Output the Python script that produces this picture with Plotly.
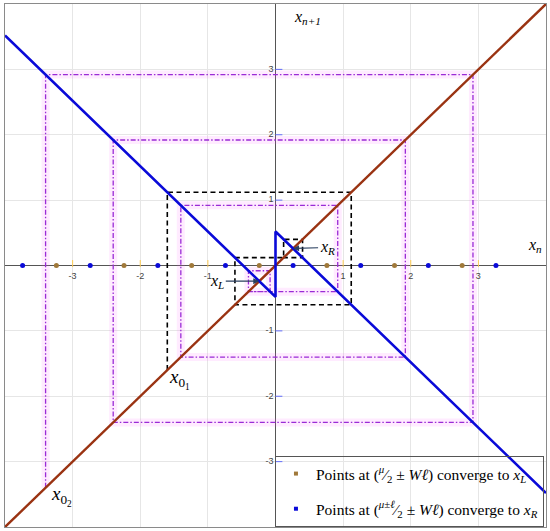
import plotly.graph_objects as go

# ---- data ----
x_left = [-4.0, 0.0]
y_left = [3.52, -0.48]
x_right = [0.0, 4.0]
y_right = [0.52, -3.48]

diag = [-4.0, 4.0]

# cobweb orbits (successive iterates)
orbit_1 = [-1.60, 1.12, -0.60, 0.12, 0.40, 0.12]
orbit_2 = [-3.40, 2.92, -2.40, 1.92, -1.40, 0.92, -0.40, -0.08, -0.40]

pts_L = [-3.24, -2.24, -1.24, -0.24, 0.76, 1.76, 2.76]
pts_R = [-3.74, -2.74, -1.74, -0.74, 0.26, 1.26, 2.26, 3.26]

ticks = [-3, -2, -1, 1, 2, 3]
x_L = -0.24
x_R = 0.26

BROWN_LINE = '#9a3312'
BROWN_DOT = '#a0793a'
BLUE = '#0a0ad8'
VIOLET = '#9a2bd6'
SERIF = 'Liberation Serif, DejaVu Serif, serif'


def staircase(orbit):
    xs, ys = [orbit[0]], [orbit[0]]
    for a, b in zip(orbit[:-1], orbit[1:]):
        xs += [a, b]
        ys += [b, b]
    return xs, ys


fig = go.Figure()

# orbit 2 (violet dash-dot with pink halo)
ox2, oy2 = staircase(orbit_2)
fig.add_trace(go.Scatter(x=ox2, y=oy2, mode='lines',
                         line=dict(color='rgba(255,90,255,0.12)', width=8),
                         showlegend=False, hoverinfo='skip'))
fig.add_trace(go.Scatter(x=ox2, y=oy2, mode='lines',
                         line=dict(color=VIOLET, width=1.3, dash='5px,2px,1.5px,2px'),
                         showlegend=False))

# orbit 1 (black dashed)
ox1, oy1 = staircase(orbit_1)
fig.add_trace(go.Scatter(x=ox1, y=oy1, mode='lines',
                         line=dict(color='black', width=1.6, dash='5px,3.5px'),
                         showlegend=False))

# diagonal x_{n+1} = x_n
fig.add_trace(go.Scatter(x=diag, y=diag, mode='lines',
                         line=dict(color=BROWN_LINE, width=2.4),
                         showlegend=False))

# map
fig.add_trace(go.Scatter(x=x_left + x_right, y=y_left + y_right, mode='lines',
                         line=dict(color=BLUE, width=2.6),
                         showlegend=False))

# points on the x axis
fig.add_trace(go.Scatter(x=pts_L, y=[0] * len(pts_L), mode='markers',
                         marker=dict(color=BROWN_DOT, size=5),
                         showlegend=False))
fig.add_trace(go.Scatter(x=pts_R, y=[0] * len(pts_R), mode='markers',
                         marker=dict(color=BLUE, size=5),
                         showlegend=False))

# legend entries
fig.add_trace(go.Scatter(x=[None], y=[None], mode='markers', legendgroup='L',
                         marker=dict(color=BROWN_DOT, size=4, symbol='square'),
                         name='Points at (<sup><i>μ</i></sup>⁄<sub>2</sub> ± <i>Wℓ</i>) converge to <i>x<sub>L</sub></i>'))
fig.add_trace(go.Scatter(x=[None], y=[None], mode='markers', legendgroup='R',
                         marker=dict(color=BLUE, size=4, symbol='square'),
                         name='Points at (<sup><i>μ</i>±<i>ℓ</i></sup>⁄<sub>2</sub> ± <i>Wℓ</i>) converge to <i>x<sub>R</sub></i>'))

# tick marks and tick labels on the crossing axes
fig.add_trace(go.Scatter(x=ticks, y=[0.03] * len(ticks), mode='markers',
                         marker=dict(symbol='line-ns-open', size=5, line=dict(color='#555', width=1)),
                         showlegend=False, hoverinfo='skip'))
fig.add_trace(go.Scatter(x=[0.05] * len(ticks), y=ticks, mode='markers',
                         marker=dict(symbol='line-ew-open', size=5, line=dict(color='#555', width=1)),
                         showlegend=False, hoverinfo='skip'))
fig.add_trace(go.Scatter(x=ticks, y=[-0.17] * len(ticks), mode='text',
                         text=[str(t) for t in ticks],
                         textfont=dict(size=9, color='#444', family='Liberation Sans, Arial'),
                         showlegend=False, hoverinfo='skip'))
fig.add_trace(go.Scatter(x=[-0.03] * len(ticks), y=ticks, mode='text',
                         text=[str(t) for t in ticks], textposition='middle left',
                         textfont=dict(size=9, color='#444', family='Liberation Sans, Arial'),
                         showlegend=False, hoverinfo='skip'))

lab_font = dict(family=SERIF, size=16, color='black')
annotations = [
    dict(x=0.48, y=3.8, text='<i>x<sub>n+1</sub></i>', showarrow=False, font=lab_font),
    dict(x=3.84, y=0.3, text='<i>x<sub>n</sub></i>', showarrow=False, font=lab_font),
    dict(x=-1.42, y=-1.74, text='<i>x</i><sub>0<sub>1</sub></sub>', showarrow=False,
         font=dict(family=SERIF, size=19, color='black')),
    dict(x=-3.16, y=-3.52, text='<i>x</i><sub>0<sub>2</sub></sub>', showarrow=False,
         font=dict(family=SERIF, size=19, color='black')),
    dict(x=x_L, y=x_L, text='<i>x<sub>L</sub></i>', showarrow=True, arrowhead=2,
         arrowsize=1, arrowwidth=1.2, ax=-42, ay=0, font=lab_font),
    dict(x=x_R, y=x_R, text='<i>x<sub>R</sub></i>', showarrow=True, arrowhead=2,
         arrowsize=1, arrowwidth=1.2, ax=34, ay=-1, font=lab_font),
]

axis_common = dict(
    range=[-4, 4], dtick=1, tick0=0, showticklabels=False, ticks='',
    showgrid=True, gridcolor='#e6e6e6', gridwidth=1,
    zeroline=True, zerolinecolor='#555', zerolinewidth=1,
    showline=True, mirror=True, linecolor='#8a8a8a', linewidth=1.2,
)

fig.update_layout(
    width=550, height=531,
    margin=dict(l=5, r=4, t=4, b=4, autoexpand=False),
    paper_bgcolor='white', plot_bgcolor='white',
    xaxis=axis_common, yaxis=axis_common,
    annotations=annotations,
    legend=dict(x=0.499, y=0.0, xanchor='left', yanchor='bottom',
                bgcolor='rgba(0,0,0,0)', bordercolor='#555', borderwidth=1,
                font=dict(family=SERIF, size=15.5, color='black'),
                itemwidth=30, tracegroupgap=12),
)

fig.write_html("out.html", config={'displayModeBar': False},
               post_script="document.body.style.margin='0';")
